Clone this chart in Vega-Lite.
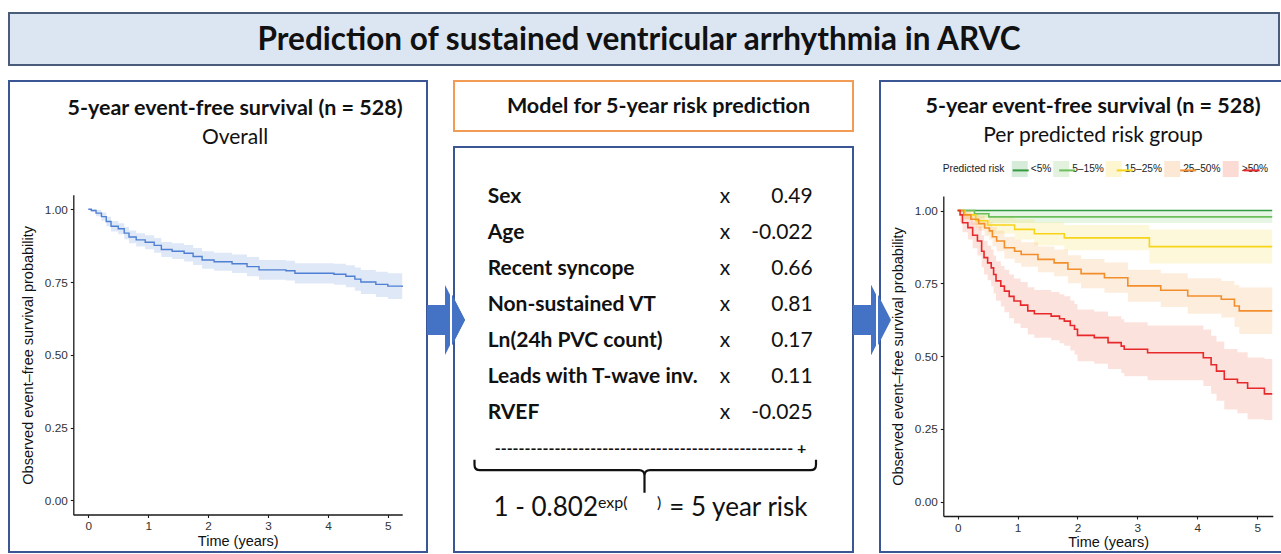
{
  "$schema": "https://vega.github.io/schema/vega-lite/v6.json",
  "padding": {"left": 8, "top": 12, "right": 0, "bottom": 0},
  "autosize": {"type": "pad"},
  "spacing": 14,
  "resolve": {"scale": {"fill": "independent", "stroke": "independent"}, "legend": {"fill": "independent", "stroke": "independent"}},
  "config": {
    "font": "Lato",
    "view": {"stroke": null},
    "axis": {"grid": false, "domainColor": "#1a1a1a", "domainWidth": 1.3, "tickColor": "#1a1a1a", "tickSize": 3, "tickWidth": 1.1, "labelFont": "Liberation Sans", "labelFontSize": 11.8, "labelColor": "#333333", "labelPadding": 3, "labelFlush": false, "titleFont": "Liberation Sans", "titleFontSize": 14.5, "titleFontWeight": "normal", "titleColor": "#111111"},
    "title": {"font": "Lato", "fontSize": 21.5, "fontWeight": "bold", "color": "#111111", "subtitleFont": "Lato", "subtitleFontSize": 21, "subtitleColor": "#111111", "subtitlePadding": 7, "anchor": "middle", "frame": "group"},
    "legend": {"orient": "none", "direction": "horizontal", "titleOrient": "left", "titleFont": "Liberation Sans", "labelFont": "Liberation Sans", "titleFontSize": 10.2, "labelFontSize": 10.2, "titleFontWeight": "normal", "titleColor": "#222222", "labelColor": "#222222", "symbolSize": 256, "labelOffset": 3, "columnPadding": 1.5, "titlePadding": 7, "titleAnchor": "middle", "titleBaseline": "middle"}
  },
  "datasets": {
    "overall": [
      {"t": 0, "s": 1, "lo": 1, "hi": 1},
      {"t": 0.05, "s": 0.996, "lo": 0.99, "hi": 1},
      {"t": 0.13, "s": 0.987, "lo": 0.976, "hi": 0.998},
      {"t": 0.22, "s": 0.975, "lo": 0.961, "hi": 0.989},
      {"t": 0.3, "s": 0.958, "lo": 0.942, "hi": 0.974},
      {"t": 0.38, "s": 0.942, "lo": 0.924, "hi": 0.96},
      {"t": 0.5, "s": 0.933, "lo": 0.914, "hi": 0.952},
      {"t": 0.6, "s": 0.918, "lo": 0.897, "hi": 0.939},
      {"t": 0.68, "s": 0.905, "lo": 0.883, "hi": 0.927},
      {"t": 0.8, "s": 0.895, "lo": 0.872, "hi": 0.918},
      {"t": 0.95, "s": 0.887, "lo": 0.863, "hi": 0.911},
      {"t": 1.1, "s": 0.876, "lo": 0.851, "hi": 0.901},
      {"t": 1.22, "s": 0.862, "lo": 0.836, "hi": 0.888},
      {"t": 1.4, "s": 0.856, "lo": 0.829, "hi": 0.883},
      {"t": 1.6, "s": 0.849, "lo": 0.821, "hi": 0.877},
      {"t": 1.75, "s": 0.838, "lo": 0.809, "hi": 0.867},
      {"t": 1.9, "s": 0.826, "lo": 0.796, "hi": 0.856},
      {"t": 2.1, "s": 0.82, "lo": 0.789, "hi": 0.851},
      {"t": 2.4, "s": 0.813, "lo": 0.781, "hi": 0.845},
      {"t": 2.65, "s": 0.803, "lo": 0.77, "hi": 0.836},
      {"t": 2.85, "s": 0.792, "lo": 0.758, "hi": 0.826},
      {"t": 3.3, "s": 0.789, "lo": 0.755, "hi": 0.823},
      {"t": 3.45, "s": 0.78, "lo": 0.745, "hi": 0.815},
      {"t": 4.1, "s": 0.777, "lo": 0.741, "hi": 0.813},
      {"t": 4.3, "s": 0.77, "lo": 0.732, "hi": 0.808},
      {"t": 4.45, "s": 0.76, "lo": 0.72, "hi": 0.8},
      {"t": 4.55, "s": 0.75, "lo": 0.709, "hi": 0.791},
      {"t": 4.8, "s": 0.742, "lo": 0.699, "hi": 0.785},
      {"t": 5.0, "s": 0.736, "lo": 0.692, "hi": 0.78},
      {"t": 5.24, "s": 0.733, "lo": 0.689, "hi": 0.777}
    ],
    "groups": [
      {"g": "<5%", "t": 0, "s": 1, "lo": 1, "hi": 1},
      {"g": "<5%", "t": 5.25, "s": 1, "lo": 1, "hi": 1},
      {"g": "5–15%", "t": 0, "s": 1, "lo": 1, "hi": 1},
      {"g": "5–15%", "t": 0.28, "s": 0.989, "lo": 0.975, "hi": 1},
      {"g": "5–15%", "t": 0.52, "s": 0.978, "lo": 0.957, "hi": 0.999},
      {"g": "5–15%", "t": 5.25, "s": 0.978, "lo": 0.953, "hi": 0.999},
      {"g": "15–25%", "t": 0, "s": 1, "lo": 1, "hi": 1},
      {"g": "15–25%", "t": 0.12, "s": 0.985, "lo": 0.97, "hi": 1},
      {"g": "15–25%", "t": 0.3, "s": 0.965, "lo": 0.94, "hi": 0.99},
      {"g": "15–25%", "t": 0.5, "s": 0.95, "lo": 0.92, "hi": 0.98},
      {"g": "15–25%", "t": 0.95, "s": 0.935, "lo": 0.9, "hi": 0.97},
      {"g": "15–25%", "t": 1.28, "s": 0.92, "lo": 0.88, "hi": 0.96},
      {"g": "15–25%", "t": 1.78, "s": 0.906, "lo": 0.863, "hi": 0.95},
      {"g": "15–25%", "t": 3.2, "s": 0.876, "lo": 0.818, "hi": 0.935},
      {"g": "15–25%", "t": 5.25, "s": 0.876, "lo": 0.815, "hi": 0.935},
      {"g": "25–50%", "t": 0, "s": 1, "lo": 1, "hi": 1},
      {"g": "25–50%", "t": 0.1, "s": 0.985, "lo": 0.97, "hi": 1},
      {"g": "25–50%", "t": 0.22, "s": 0.97, "lo": 0.95, "hi": 0.99},
      {"g": "25–50%", "t": 0.35, "s": 0.955, "lo": 0.93, "hi": 0.98},
      {"g": "25–50%", "t": 0.45, "s": 0.94, "lo": 0.912, "hi": 0.968},
      {"g": "25–50%", "t": 0.53, "s": 0.93, "lo": 0.9, "hi": 0.96},
      {"g": "25–50%", "t": 0.58, "s": 0.91, "lo": 0.877, "hi": 0.943},
      {"g": "25–50%", "t": 0.65, "s": 0.895, "lo": 0.86, "hi": 0.93},
      {"g": "25–50%", "t": 0.78, "s": 0.872, "lo": 0.834, "hi": 0.91},
      {"g": "25–50%", "t": 0.95, "s": 0.86, "lo": 0.82, "hi": 0.9},
      {"g": "25–50%", "t": 1.06, "s": 0.849, "lo": 0.807, "hi": 0.891},
      {"g": "25–50%", "t": 1.34, "s": 0.832, "lo": 0.788, "hi": 0.876},
      {"g": "25–50%", "t": 1.61, "s": 0.82, "lo": 0.774, "hi": 0.866},
      {"g": "25–50%", "t": 1.84, "s": 0.798, "lo": 0.75, "hi": 0.846},
      {"g": "25–50%", "t": 2.06, "s": 0.783, "lo": 0.733, "hi": 0.833},
      {"g": "25–50%", "t": 2.45, "s": 0.769, "lo": 0.717, "hi": 0.821},
      {"g": "25–50%", "t": 2.84, "s": 0.741, "lo": 0.686, "hi": 0.796},
      {"g": "25–50%", "t": 3.39, "s": 0.726, "lo": 0.668, "hi": 0.784},
      {"g": "25–50%", "t": 3.84, "s": 0.706, "lo": 0.645, "hi": 0.767},
      {"g": "25–50%", "t": 4.4, "s": 0.695, "lo": 0.632, "hi": 0.758},
      {"g": "25–50%", "t": 4.62, "s": 0.672, "lo": 0.6, "hi": 0.744},
      {"g": "25–50%", "t": 4.7, "s": 0.655, "lo": 0.576, "hi": 0.735},
      {"g": "25–50%", "t": 5.25, "s": 0.655, "lo": 0.576, "hi": 0.735},
      {"g": ">50%", "t": 0, "s": 1, "lo": 1, "hi": 1},
      {"g": ">50%", "t": 0.04, "s": 0.985, "lo": 0.96, "hi": 1},
      {"g": ">50%", "t": 0.08, "s": 0.958, "lo": 0.925, "hi": 0.99},
      {"g": ">50%", "t": 0.17, "s": 0.941, "lo": 0.9, "hi": 0.98},
      {"g": ">50%", "t": 0.25, "s": 0.915, "lo": 0.87, "hi": 0.96},
      {"g": ">50%", "t": 0.33, "s": 0.895, "lo": 0.845, "hi": 0.945},
      {"g": ">50%", "t": 0.4, "s": 0.86, "lo": 0.805, "hi": 0.915},
      {"g": ">50%", "t": 0.44, "s": 0.838, "lo": 0.78, "hi": 0.896},
      {"g": ">50%", "t": 0.5, "s": 0.82, "lo": 0.76, "hi": 0.88},
      {"g": ">50%", "t": 0.56, "s": 0.803, "lo": 0.74, "hi": 0.866},
      {"g": ">50%", "t": 0.6, "s": 0.78, "lo": 0.715, "hi": 0.845},
      {"g": ">50%", "t": 0.64, "s": 0.758, "lo": 0.69, "hi": 0.826},
      {"g": ">50%", "t": 0.72, "s": 0.74, "lo": 0.67, "hi": 0.81},
      {"g": ">50%", "t": 0.78, "s": 0.723, "lo": 0.65, "hi": 0.796},
      {"g": ">50%", "t": 0.86, "s": 0.705, "lo": 0.63, "hi": 0.78},
      {"g": ">50%", "t": 0.94, "s": 0.689, "lo": 0.612, "hi": 0.766},
      {"g": ">50%", "t": 1.05, "s": 0.675, "lo": 0.596, "hi": 0.754},
      {"g": ">50%", "t": 1.17, "s": 0.655, "lo": 0.574, "hi": 0.736},
      {"g": ">50%", "t": 1.28, "s": 0.645, "lo": 0.563, "hi": 0.727},
      {"g": ">50%", "t": 1.56, "s": 0.637, "lo": 0.554, "hi": 0.72},
      {"g": ">50%", "t": 1.7, "s": 0.628, "lo": 0.544, "hi": 0.712},
      {"g": ">50%", "t": 1.78, "s": 0.62, "lo": 0.535, "hi": 0.705},
      {"g": ">50%", "t": 1.88, "s": 0.605, "lo": 0.519, "hi": 0.691},
      {"g": ">50%", "t": 1.95, "s": 0.592, "lo": 0.505, "hi": 0.679},
      {"g": ">50%", "t": 2.0, "s": 0.571, "lo": 0.482, "hi": 0.66},
      {"g": ">50%", "t": 2.28, "s": 0.563, "lo": 0.473, "hi": 0.653},
      {"g": ">50%", "t": 2.51, "s": 0.546, "lo": 0.455, "hi": 0.637},
      {"g": ">50%", "t": 2.73, "s": 0.534, "lo": 0.442, "hi": 0.626},
      {"g": ">50%", "t": 2.78, "s": 0.523, "lo": 0.43, "hi": 0.616},
      {"g": ">50%", "t": 3.17, "s": 0.511, "lo": 0.417, "hi": 0.605},
      {"g": ">50%", "t": 4.1, "s": 0.494, "lo": 0.397, "hi": 0.591},
      {"g": ">50%", "t": 4.23, "s": 0.47, "lo": 0.37, "hi": 0.57},
      {"g": ">50%", "t": 4.32, "s": 0.448, "lo": 0.346, "hi": 0.55},
      {"g": ">50%", "t": 4.45, "s": 0.42, "lo": 0.316, "hi": 0.524},
      {"g": ">50%", "t": 4.67, "s": 0.408, "lo": 0.303, "hi": 0.513},
      {"g": ">50%", "t": 4.84, "s": 0.389, "lo": 0.283, "hi": 0.495},
      {"g": ">50%", "t": 5.12, "s": 0.37, "lo": 0.28, "hi": 0.49},
      {"g": ">50%", "t": 5.25, "s": 0.37, "lo": 0.28, "hi": 0.49}
    ],
    "terms": [
      {"term": "Sex", "coef": "0.49"},
      {"term": "Age", "coef": "-0.022"},
      {"term": "Recent syncope", "coef": "0.66"},
      {"term": "Non-sustained VT", "coef": "0.81"},
      {"term": "Ln(24h PVC count)", "coef": "0.17"},
      {"term": "Leads with T-wave inv.", "coef": "0.11"},
      {"term": "RVEF", "coef": "-0.025"}
    ]
  },
  "vconcat": [
    {
      "width": 1270,
      "height": 52,
      "view": {"fill": "#dce6f2", "stroke": "#4b5b7a", "strokeWidth": 2},
      "data": {"values": [{"heading": "Prediction of sustained ventricular arrhythmia in ARVC"}]},
      "mark": {"type": "text", "font": "Lato", "fontSize": 31.5, "fontWeight": "bold", "color": "#111111", "dx": -5, "dy": 2},
      "encoding": {"text": {"field": "heading", "type": "nominal"}}
    },
    {
      "spacing": 0,
      "resolve": {"scale": {"fill": "independent", "stroke": "independent"}, "legend": {"fill": "independent", "stroke": "independent"}},
      "hconcat": [
        {
          "width": 418,
          "height": 471,
          "view": {"stroke": "#3a5694", "strokeWidth": 2},
          "title": {"text": "5-year event-free survival (n = 528)", "subtitle": "Overall", "offset": -66.5, "dx": 17},
          "layer": [
            {
              "data": {"name": "overall"},
              "mark": {"type": "area", "interpolate": "step-after", "color": "#4f7fd4", "opacity": 0.18},
              "encoding": {
                "x": {"field": "t", "type": "quantitative", "title": "Time (years)", "scale": {"domain": [-0.25, 5.24], "range": [64.3, 393.2], "nice": false, "zero": false}, "axis": {"values": [0, 1, 2, 3, 4, 5], "format": "d", "offset": -37.5, "titlePadding": 2}},
                "y": {"field": "lo", "type": "quantitative", "title": "Observed event–free survival probability", "scale": {"domain": [-0.05, 1.05], "range": [433.85, 113.75], "nice": false, "zero": false}, "axis": {"values": [0, 0.25, 0.5, 0.75, 1], "format": ".2f", "offset": -64.3, "titlePadding": 8.5}},
                "y2": {"field": "hi"}
              }
            },
            {
              "data": {"name": "overall"},
              "mark": {"type": "line", "interpolate": "step-after", "color": "#4f7fd4", "strokeWidth": 1.4},
              "encoding": {
                "x": {"field": "t", "type": "quantitative", "title": "Time (years)"},
                "y": {"field": "s", "type": "quantitative", "title": "Observed event–free survival probability"}
              }
            },
            {
              "data": {"values": [{"arrow": "to model, shaft"}]},
              "mark": {"type": "point", "shape": "M 209 -11.5 L 227 -11.5 L 227 -31.5 L 232 -21.78 L 232 28.78 L 227 38.5 L 227 18.5 L 209 18.5 Z", "size": 4, "filled": true, "fill": "#4472c4", "strokeWidth": 0, "opacity": 1},
              "encoding": {}
            }
          ]
        },
        {
          "spacing": 16,
          "bounds": "flush",
          "vconcat": [
            {
              "width": 399,
              "height": 50,
              "view": {"stroke": "#f29b55", "strokeWidth": 2},
              "data": {"values": [{"label": "Model for 5-year risk prediction"}]},
              "mark": {"type": "text", "font": "Lato", "fontSize": 21.5, "fontWeight": "bold", "color": "#111111", "dx": 5, "dy": 1},
              "encoding": {"text": {"field": "label", "type": "nominal"}}
            },
            {
              "width": 399,
              "height": 405,
              "view": {"stroke": "#3a5694", "strokeWidth": 2},
              "layer": [
                {
                  "data": {"values": [{"arrow": "to model, tip"}, {"arrow": "to groups, shaft"}]},
                  "mark": {"type": "point", "shape": "M -201.5 -54.78 L -188.5 -29.5 L -201.5 -4.22 Z M 199.5 -44.5 L 217.5 -44.5 L 217.5 -64.5 L 222.5 -54.78 L 222.5 -4.22 L 217.5 5.5 L 217.5 -14.5 L 199.5 -14.5 Z", "size": 4, "filled": true, "fill": "#4472c4", "strokeWidth": 0, "opacity": 1},
                  "encoding": {}
                },
                {
                  "data": {"name": "terms"},
                  "mark": {"type": "text", "align": "left", "dx": -165.8, "font": "Lato", "fontSize": 21, "fontWeight": "bold", "color": "#111111"},
                  "encoding": {
                    "y": {"field": "term", "type": "nominal", "sort": null, "scale": {"type": "point", "domain": ["Sex", "Age", "Recent syncope", "Non-sustained VT", "Ln(24h PVC count)", "Leads with T-wave inv.", "RVEF", "sum"], "range": [49.7, 301.7], "padding": 0}, "axis": null},
                    "text": {"field": "term", "type": "nominal"}
                  }
                },
                {
                  "data": {"name": "terms"},
                  "mark": {"type": "text", "text": "x", "dx": 71.5, "font": "Lato", "fontSize": 21, "color": "#111111"},
                  "encoding": {"y": {"field": "term", "type": "nominal", "sort": null}}
                },
                {
                  "data": {"name": "terms"},
                  "mark": {"type": "text", "align": "right", "dx": 159.2, "font": "Lato", "fontSize": 21, "color": "#111111"},
                  "encoding": {"y": {"field": "term", "type": "nominal", "sort": null}, "text": {"field": "coef", "type": "nominal"}}
                },
                {
                  "data": {"values": [{"line": "-------------------------------------------------- +"}]},
                  "mark": {"type": "text", "dx": -3, "font": "Lato", "fontSize": 16, "fontWeight": "bold", "color": "#111111"},
                  "encoding": {"y": {"datum": "sum", "type": "nominal"}, "text": {"field": "line", "type": "nominal"}}
                },
                {
                  "data": {"values": [{"part": "brace"}]},
                  "mark": {"type": "point", "shape": "M -179 11 L -179 16 Q -179 21.5 -173.5 21.5 L -14.5 21.5 Q -9 21.5 -9 27 L -9 44 M -9 27 Q -9 21.5 -3.5 21.5 L 157 21.5 Q 162.5 21.5 162.5 16 L 162.5 11", "size": 4, "filled": false, "stroke": "#111111", "strokeWidth": 2.2, "opacity": 1},
                  "encoding": {"y": {"datum": "sum", "type": "nominal"}}
                },
                {
                  "data": {"values": [{"base": "1 - 0.802", "sup": "exp(", "close": ")", "result": "= 5 year risk"}]},
                  "layer": [
                    {"mark": {"type": "text", "align": "right", "dx": -55.5, "dy": 59.3, "font": "Lato", "fontSize": 26, "color": "#111111"}, "encoding": {"y": {"datum": "sum", "type": "nominal"}, "text": {"field": "base", "type": "nominal"}}},
                    {"mark": {"type": "text", "align": "left", "dx": -55.5, "dy": 54.5, "font": "Lato", "fontSize": 16, "color": "#111111"}, "encoding": {"y": {"datum": "sum", "type": "nominal"}, "text": {"field": "sup", "type": "nominal"}}},
                    {"mark": {"type": "text", "align": "left", "dx": 3.5, "dy": 54.5, "font": "Lato", "fontSize": 16, "color": "#111111"}, "encoding": {"y": {"datum": "sum", "type": "nominal"}, "text": {"field": "close", "type": "nominal"}}},
                    {"mark": {"type": "text", "align": "left", "dx": 15.8, "dy": 59.3, "font": "Lato", "fontSize": 26, "color": "#111111"}, "encoding": {"y": {"datum": "sum", "type": "nominal"}, "text": {"field": "result", "type": "nominal"}}}
                  ]
                }
              ]
            }
          ]
        },
        {
          "width": 402,
          "height": 471,
          "view": {"stroke": "#3a5694", "strokeWidth": 2},
          "title": {"text": "5-year event-free survival (n = 528)", "subtitle": "Per predicted risk group", "offset": -64.5, "dx": 12},
          "resolve": {"scale": {"fill": "independent", "stroke": "independent"}, "legend": {"fill": "independent", "stroke": "independent"}},
          "layer": [
            {
              "data": {"name": "groups"},
              "mark": {"type": "area", "interpolate": "step-after", "opacity": 0.16},
              "encoding": {
                "x": {"field": "t", "type": "quantitative", "title": "Time (years)", "scale": {"domain": [-0.24, 5.26], "range": [63.3, 392.8], "nice": false, "zero": false}, "axis": {"values": [0, 1, 2, 3, 4, 5], "format": "d", "offset": -36, "titlePadding": 2}},
                "y": {"field": "lo", "type": "quantitative", "stack": null, "title": "Observed event–free survival probability", "scale": {"domain": [-0.05, 1.05], "range": [435.05, 114.95], "nice": false, "zero": false}, "axis": {"values": [0, 0.25, 0.5, 0.75, 1], "format": ".2f", "offset": -63.3, "titlePadding": 8.5}},
                "y2": {"field": "hi"},
                "fill": {"field": "g", "type": "nominal", "scale": {"domain": ["<5%", "5–15%", "15–25%", "25–50%", ">50%"], "range": ["#339a3f", "#6cc05c", "#f7d417", "#f28e2b", "#ef4a2a"]}, "legend": {"title": "Predicted risk", "legendX": 62.7, "legendY": 80, "symbolType": "square", "symbolOpacity": 0.2, "symbolStrokeWidth": 0}}
              }
            },
            {
              "data": {"name": "groups"},
              "mark": {"type": "line", "interpolate": "step-after", "strokeWidth": 1.6},
              "encoding": {
                "x": {"field": "t", "type": "quantitative", "title": "Time (years)"},
                "y": {"field": "s", "type": "quantitative", "title": "Observed event–free survival probability"},
                "stroke": {"field": "g", "type": "nominal", "sort": ["<5%", "5–15%", "15–25%", "25–50%", ">50%"], "scale": {"range": ["#339a3f", "#6cc05c", "#f7d417", "#f28e2b", "#e8292b"]}, "legend": {"title": "Predicted risk", "legendX": 62.7, "legendY": 80, "symbolType": "stroke", "symbolStrokeWidth": 2, "labelOpacity": 0, "titleOpacity": 0}}
              }
            },
            {
              "data": {"values": [{"arrow": "to groups, tip"}]},
              "mark": {"type": "point", "shape": "M -203 -21.78 L -190 3.5 L -203 28.78 Z", "size": 4, "filled": true, "fill": "#4472c4", "strokeWidth": 0, "opacity": 1},
              "encoding": {}
            }
          ]
        }
      ]
    }
  ]
}
